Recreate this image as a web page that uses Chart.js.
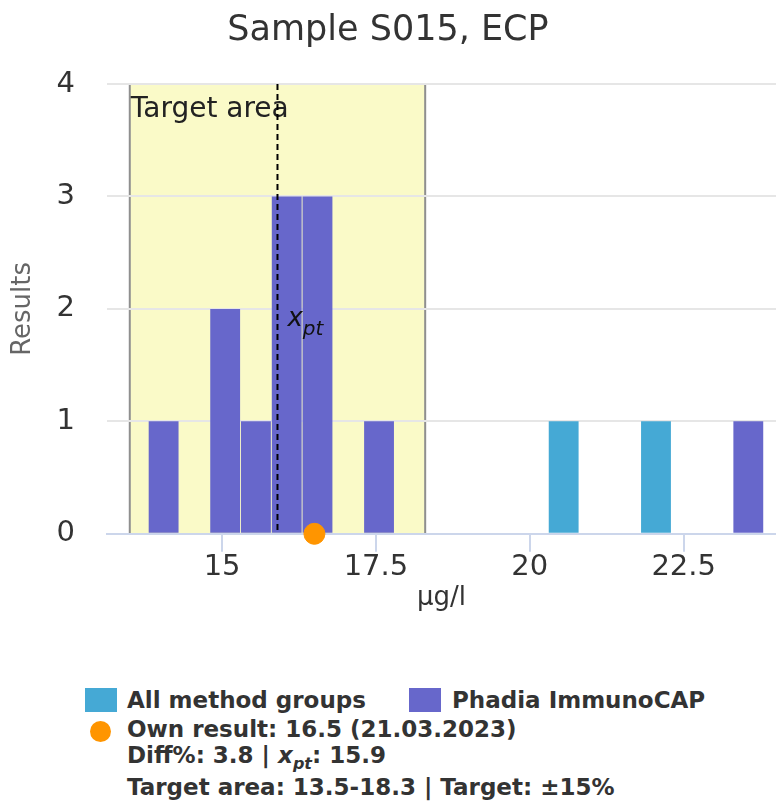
<!DOCTYPE html>
<html>
<head>
<meta charset="utf-8">
<script src="https://cdn.jsdelivr.net/npm/chart.js@4"></script>
<style>
  html, body { margin: 0; padding: 0; background: #fff; overflow: hidden; }
  body { width: 776px; height: 810px; position: relative; font-family: "DejaVu Sans", sans-serif; }
  #wrap { position: absolute; left: 0; top: 0; width: 776px; height: 640px; }
  .legend { position: absolute; font-weight: bold; font-size: 23px; color: #333; white-space: nowrap; line-height: normal; }
  .legend sub { font-size: 16px; }
  .swatch { position: absolute; width: 32px; height: 24px; }
  .dot { position: absolute; width: 21px; height: 21px; border-radius: 50%; }
</style>
</head>
<body>
<div id="wrap"><canvas id="chart"></canvas></div>
<div id="legend"></div>
<script>
// Histogram bins (bin centres, width 0.5 µg/l) and counts per series
const binCenters = [14.05, 14.55, 15.05, 15.55, 16.05, 16.55, 17.05, 17.55, 18.05, 18.55,
                    19.05, 19.55, 20.05, 20.55, 21.05, 21.55, 22.05, 22.55, 23.05, 23.55];
const allGroupCounts = [0, 0, 0, 0, 0, 0, 0, 0, 0, 0, 0, 0, 0, 1, 0, 0, 1, 0, 0, 0];
const phadiaCounts   = [1, 0, 2, 1, 3, 3, 0, 1, 0, 0, 0, 0, 0, 0, 0, 0, 0, 0, 0, 1];

// Axis ticks and range
const xTicks = [15, 17.5, 20, 22.5];
const yTicks = [0, 1, 2, 3, 4];
const xRange = [13.13, 24.0];

// Result info
const ownResult = 16.5;
const ownDate = "21.03.2023";
const xpt = 15.9;
const diffPct = 3.8;
const targetArea = [13.5, 18.3];
const targetPct = 15;

const colors = { all: "#45a9d5", phadia: "#6767cb", own: "#ff9500" };

// Only non-empty bins become bars
function toPoints(counts) {
  return binCenters.map((x, i) => ({ x, y: counts[i] })).filter(p => p.y > 0);
}

// Target area band, edges, x_pt line and label
const targetAreaPlugin = {
  id: "targetArea",
  beforeDraw(chart) {
    const { ctx, chartArea: a, scales: { x } } = chart;
    const x0 = x.getPixelForValue(targetArea[0]);
    const x1 = x.getPixelForValue(targetArea[1]);
    ctx.save();
    ctx.fillStyle = "#fafac8";
    ctx.fillRect(x0, a.top, x1 - x0, a.bottom - a.top);
    ctx.strokeStyle = "#8f8f8f";
    ctx.lineWidth = 2;
    ctx.beginPath();
    ctx.moveTo(x0, a.top); ctx.lineTo(x0, a.bottom);
    ctx.moveTo(x1, a.top); ctx.lineTo(x1, a.bottom);
    ctx.stroke();
    ctx.fillStyle = "#222";
    ctx.font = '28px "DejaVu Sans"';
    ctx.textBaseline = "alphabetic";
    ctx.fillText("Target area", x0 + 1, a.top + 33);
    ctx.restore();
  },
  afterDatasetsDraw(chart) {
    const { ctx, chartArea: a, scales: { x, y } } = chart;
    const xp = x.getPixelForValue(xpt);
    ctx.save();
    ctx.strokeStyle = "#000";
    ctx.lineWidth = 2;
    ctx.setLineDash([6, 4]);
    ctx.beginPath();
    ctx.moveTo(xp, a.top); ctx.lineTo(xp, a.bottom);
    ctx.stroke();
    ctx.setLineDash([]);
    ctx.fillStyle = "#111";
    ctx.textBaseline = "alphabetic";
    const base = y.getPixelForValue(2) + 17;
    ctx.font = 'italic 26px "DejaVu Sans"';
    ctx.fillText("x", xp + 10, base);
    const w = ctx.measureText("x").width;
    ctx.font = 'italic 20px "DejaVu Sans"';
    ctx.fillText("pt", xp + 10 + w, base + 9);
    ctx.restore();
  }
};

Chart.defaults.font.family = '"DejaVu Sans", sans-serif';

const chart = new Chart(document.getElementById("chart"), {
  data: {
    datasets: [
      {
        type: "scatter",
        label: "Own result",
        data: [{ x: ownResult, y: 0 }],
        backgroundColor: colors.own,
        borderColor: colors.own,
        pointRadius: 10.5,
        pointHoverRadius: 10.5,
        clip: false,
        stack: "own",
        order: 0
      },
      {
        type: "bar",
        label: "All method groups",
        data: toPoints(allGroupCounts),
        backgroundColor: colors.all,
        borderWidth: 0,
        categoryPercentage: 1,
        barPercentage: 0.97,
        stack: "bins",
        order: 1
      },
      {
        type: "bar",
        label: "Phadia ImmunoCAP",
        data: toPoints(phadiaCounts),
        backgroundColor: colors.phadia,
        borderWidth: 0,
        categoryPercentage: 1,
        barPercentage: 0.97,
        stack: "bins",
        order: 1
      }
    ]
  },
  options: {
    responsive: true,
    maintainAspectRatio: false,
    animation: false,
    layout: { autoPadding: false, padding: { left: 0, right: 0, top: 0, bottom: 26 } },
    plugins: {
      legend: { display: false },
      tooltip: { enabled: false },
      title: {
        display: true,
        text: "Sample S015, ECP",
        color: "#333",
        font: { size: 35, weight: "normal" },
        padding: { top: 10, bottom: 32 }
      }
    },
    scales: {
      x: {
        type: "linear",
        min: xRange[0],
        max: xRange[1],
        offset: false,
        stacked: true,
        afterBuildTicks: s => { s.ticks = xTicks.map(v => ({ value: v })); },
        grid: { offset: false, drawOnChartArea: false, drawTicks: true, tickLength: 18, color: "#ccd6eb", lineWidth: 2 },
        border: { display: true, color: "#ccd6eb", width: 2 },
        ticks: { color: "#333", font: { size: 29, lineHeight: 1 }, padding: 1, maxRotation: 0, callback: v => String(v) },
        title: { display: true, text: "µg/l", color: "#333", font: { size: 26 }, padding: { top: 0, bottom: 0 } }
      },
      y: {
        min: 0,
        max: 4,
        stacked: true,
        afterBuildTicks: s => { s.ticks = yTicks.map(v => ({ value: v })); },
        afterFit: s => { s.width = 107; },
        grid: {
          color: c => (c.tick && c.tick.value === 0 ? "rgba(0,0,0,0)" : "#e6e6e6"),
          lineWidth: 2,
          drawTicks: false
        },
        border: { display: false },
        ticks: { color: "#333", font: { size: 29, lineHeight: 1 }, padding: 32 },
        title: { display: true, text: "Results", color: "#666", font: { size: 26 }, padding: { top: 8, bottom: 0 } }
      }
    }
  },
  plugins: [targetAreaPlugin]
});

// Legend below the chart
const ds = chart.data.datasets;
document.getElementById("legend").innerHTML =
  `<div class="swatch" style="left:85px;top:688px;background:${ds[1].backgroundColor}"></div>` +
  `<div class="legend" style="left:127px;top:687px">${ds[1].label}</div>` +
  `<div class="swatch" style="left:409px;top:688px;background:${ds[2].backgroundColor}"></div>` +
  `<div class="legend" style="left:452px;top:687px">${ds[2].label}</div>` +
  `<div class="dot" style="left:90px;top:721px;background:${ds[0].backgroundColor}"></div>` +
  `<div class="legend" style="left:127px;top:716px">${ds[0].label}: ${ownResult} (${ownDate})</div>` +
  `<div class="legend" style="left:127px;top:742px">Diff%: ${diffPct} | <i>x<sub>pt</sub></i>: ${xpt}</div>` +
  `<div class="legend" style="left:127px;top:774px">Target area: ${targetArea[0]}-${targetArea[1]} | Target: ±${targetPct}%</div>`;
</script>
</body>
</html>
